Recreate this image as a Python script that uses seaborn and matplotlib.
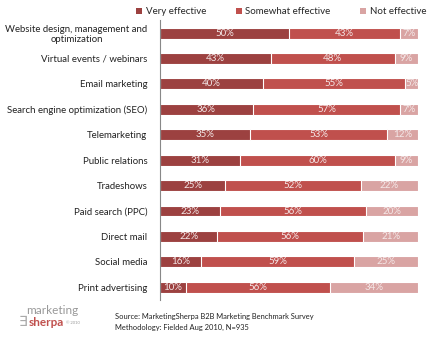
import numpy as np
import pandas as pd
import matplotlib
matplotlib.use("Agg")
import matplotlib.pyplot as plt
import seaborn as sns
from matplotlib.patches import Patch

categories = ["Website design, management and\noptimization", "Virtual events / webinars",
              "Email marketing", "Search engine optimization (SEO)", "Telemarketing",
              "Public relations", "Tradeshows", "Paid search (PPC)", "Direct mail",
              "Social media", "Print advertising"]
very = [50, 43, 40, 36, 35, 31, 25, 23, 22, 16, 10]
somewhat = [43, 48, 55, 57, 53, 60, 52, 56, 56, 59, 56]
noteff = [7, 9, 5, 7, 12, 9, 22, 20, 21, 25, 34]
series = ["Very effective", "Somewhat effective", "Not effective"]
colors = ["#9C4140", "#C0504D", "#D9A4A3"]

sns.set_theme(style="white")
plt.rcParams['font.family'] = ['Lato', 'DejaVu Sans']

df = pd.DataFrame({"cat": categories, "v": very, "s": somewhat, "n": noteff})
tot = df[["v", "s", "n"]].sum(axis=1)
df["c1"] = df["v"] / tot * 100
df["c2"] = (df["v"] + df["s"]) / tot * 100
df["c3"] = (df["v"] + df["s"] + df["n"]) / tot * 100

fig = plt.figure(figsize=(4.34, 3.39), dpi=100)
ax = fig.add_axes([0.3687, 0.115, 0.5945, 0.825])

for col, c in zip(["c3", "c2", "c1"], colors[::-1]):
    sns.barplot(data=df, x=col, y="cat", color=c, orient="h", width=0.43,
                edgecolor="white", linewidth=0.8, ax=ax, saturation=1)

for i in range(len(df)):
    starts = [0, df.c1[i], df.c2[i]]
    ends = [df.c1[i], df.c2[i], df.c3[i]]
    vals = [df.v[i], df.s[i], df.n[i]]
    for s0, e0, v in zip(starts, ends, vals):
        ax.text((s0 + e0) / 2, i, f"{v}%", ha="center", va="center",
                color="#F4E8E8", fontsize=7)

ax.set_xlim(0, 100)
ax.set_ylim(10.5, -0.5)
ax.set_xlabel("")
ax.set_ylabel("")
ax.set_xticks([])
ax.tick_params(axis="y", length=0, pad=9, labelsize=6.9, labelcolor="#222222")
for lab in ax.get_yticklabels():
    lab.set_multialignment("center")
for sp in ["top", "right", "bottom"]:
    ax.spines[sp].set_visible(False)
ax.spines["left"].set_color("#888888")
ax.spines["left"].set_linewidth(0.8)

handles = [Patch(facecolor=c, edgecolor="none") for c in colors]
fig.legend(handles, series, loc="center", bbox_to_anchor=(0.648, 0.965), ncol=3,
           frameon=False, fontsize=7, handlelength=0.6, handleheight=0.6,
           handletextpad=0.4, columnspacing=3.0)

fig.text(0.266, 0.066, "Source: MarketingSherpa B2B Marketing Benchmark Survey",
         fontsize=5.4, color="#222222", va="center")
fig.text(0.266, 0.033, "Methodology: Fielded Aug 2010, N=935",
         fontsize=5.4, color="#222222", va="center")

fig.text(0.06, 0.083, "marketing", fontsize=8.5, color="#999999", va="center")
fig.text(0.042, 0.05, "\u2203", fontsize=10, color="#aaaaaa", va="center")
fig.text(0.066, 0.05, "sherpa", fontsize=8.5, color="#C0504D", va="center", fontweight="bold")
fig.text(0.153, 0.046, "\u00a9 2010", fontsize=3, color="#999999", va="center")

fig.savefig("out.png", dpi=100)
